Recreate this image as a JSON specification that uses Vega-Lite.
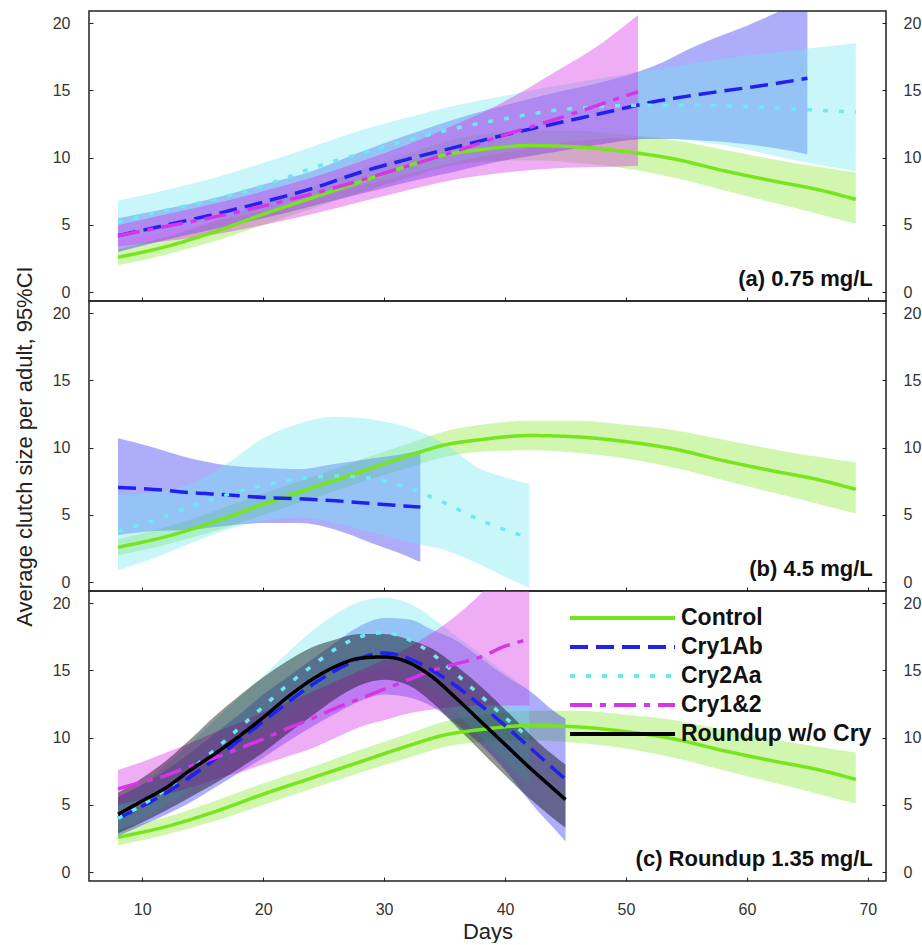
{
  "$schema": "https://vega.github.io/schema/vega-lite/v6.json",
  "background": "white",
  "padding": {"left": 12, "top": 10, "right": 0, "bottom": 0},
  "spacing": 0,
  "bounds": "flush",
  "config": {
    "view": {"stroke": "#222", "strokeWidth": 1.5},
    "font": "Liberation Sans",
    "axis": {
      "labelFont": "Liberation Sans", "labelFontSize": 16, "labelColor": "#333",
      "tickColor": "#222", "tickSize": -4, "tickWidth": 1, "domain": false, "grid": false,
      "titleFont": "Liberation Sans", "titleFontSize": 22, "titleFontWeight": "normal", "titleColor": "#222"
    }
  },
  "datasets": {
    "curves": [
      {"p":"all","s":"Control","d":8,"m":2.6,"lo":2.0,"hi":3.2},
      {"p":"all","s":"Control","d":12,"m":3.4,"lo":2.8,"hi":4.1},
      {"p":"all","s":"Control","d":16,"m":4.5,"lo":3.8,"hi":5.3},
      {"p":"all","s":"Control","d":20,"m":5.8,"lo":5.0,"hi":6.6},
      {"p":"all","s":"Control","d":24,"m":7.0,"lo":6.2,"hi":7.8},
      {"p":"all","s":"Control","d":28,"m":8.2,"lo":7.4,"hi":9.1},
      {"p":"all","s":"Control","d":32,"m":9.4,"lo":8.5,"hi":10.3},
      {"p":"all","s":"Control","d":35,"m":10.2,"lo":9.3,"hi":11.2},
      {"p":"all","s":"Control","d":38,"m":10.6,"lo":9.7,"hi":11.7},
      {"p":"all","s":"Control","d":42,"m":10.9,"lo":9.8,"hi":12.0},
      {"p":"all","s":"Control","d":46,"m":10.8,"lo":9.6,"hi":12.0},
      {"p":"all","s":"Control","d":50,"m":10.45,"lo":9.2,"hi":11.7},
      {"p":"all","s":"Control","d":54,"m":9.9,"lo":8.5,"hi":11.3},
      {"p":"all","s":"Control","d":58,"m":9.05,"lo":7.6,"hi":10.6},
      {"p":"all","s":"Control","d":62,"m":8.3,"lo":6.7,"hi":9.9},
      {"p":"all","s":"Control","d":66,"m":7.6,"lo":5.8,"hi":9.3},
      {"p":"all","s":"Control","d":69,"m":6.9,"lo":5.1,"hi":8.9},

      {"p":"a","s":"Cry1Ab","d":8,"m":4.2,"lo":3.0,"hi":5.5},
      {"p":"a","s":"Cry1Ab","d":12,"m":5.0,"lo":3.9,"hi":6.2},
      {"p":"a","s":"Cry1Ab","d":16,"m":5.8,"lo":4.7,"hi":7.0},
      {"p":"a","s":"Cry1Ab","d":20,"m":6.7,"lo":5.5,"hi":8.0},
      {"p":"a","s":"Cry1Ab","d":24,"m":7.7,"lo":6.4,"hi":9.0},
      {"p":"a","s":"Cry1Ab","d":28,"m":8.9,"lo":7.3,"hi":10.4},
      {"p":"a","s":"Cry1Ab","d":32,"m":9.9,"lo":8.2,"hi":11.7},
      {"p":"a","s":"Cry1Ab","d":36,"m":10.8,"lo":9.0,"hi":12.9},
      {"p":"a","s":"Cry1Ab","d":40,"m":11.7,"lo":9.8,"hi":13.9},
      {"p":"a","s":"Cry1Ab","d":44,"m":12.5,"lo":10.4,"hi":14.8},
      {"p":"a","s":"Cry1Ab","d":48,"m":13.3,"lo":11.0,"hi":15.6},
      {"p":"a","s":"Cry1Ab","d":52,"m":14.1,"lo":11.4,"hi":16.7},
      {"p":"a","s":"Cry1Ab","d":56,"m":14.7,"lo":11.3,"hi":18.4},
      {"p":"a","s":"Cry1Ab","d":60,"m":15.2,"lo":11.0,"hi":19.8},
      {"p":"a","s":"Cry1Ab","d":63,"m":15.6,"lo":10.6,"hi":21.0},
      {"p":"a","s":"Cry1Ab","d":65,"m":15.9,"lo":10.25,"hi":21.8},

      {"p":"a","s":"Cry2Aa","d":8,"m":5.2,"lo":3.8,"hi":6.8},
      {"p":"a","s":"Cry2Aa","d":12,"m":6.1,"lo":4.5,"hi":7.6},
      {"p":"a","s":"Cry2Aa","d":16,"m":6.9,"lo":5.3,"hi":8.5},
      {"p":"a","s":"Cry2Aa","d":20,"m":7.9,"lo":6.0,"hi":9.6},
      {"p":"a","s":"Cry2Aa","d":24,"m":9.2,"lo":6.9,"hi":10.8},
      {"p":"a","s":"Cry2Aa","d":28,"m":10.3,"lo":7.9,"hi":12.0},
      {"p":"a","s":"Cry2Aa","d":32,"m":11.3,"lo":8.8,"hi":13.0},
      {"p":"a","s":"Cry2Aa","d":36,"m":12.2,"lo":9.7,"hi":13.9},
      {"p":"a","s":"Cry2Aa","d":40,"m":12.9,"lo":10.4,"hi":14.6},
      {"p":"a","s":"Cry2Aa","d":44,"m":13.5,"lo":11.0,"hi":15.3},
      {"p":"a","s":"Cry2Aa","d":48,"m":13.8,"lo":11.4,"hi":15.9},
      {"p":"a","s":"Cry2Aa","d":52,"m":13.9,"lo":11.5,"hi":16.5},
      {"p":"a","s":"Cry2Aa","d":56,"m":13.9,"lo":11.2,"hi":17.1},
      {"p":"a","s":"Cry2Aa","d":60,"m":13.8,"lo":10.6,"hi":17.6},
      {"p":"a","s":"Cry2Aa","d":64,"m":13.6,"lo":9.8,"hi":18.0},
      {"p":"a","s":"Cry2Aa","d":69,"m":13.4,"lo":9.0,"hi":18.5},

      {"p":"a","s":"Cry1&2","d":8,"m":4.2,"lo":3.4,"hi":5.0},
      {"p":"a","s":"Cry1&2","d":12,"m":4.9,"lo":3.8,"hi":5.8},
      {"p":"a","s":"Cry1&2","d":16,"m":5.6,"lo":4.3,"hi":6.6},
      {"p":"a","s":"Cry1&2","d":20,"m":6.4,"lo":5.0,"hi":7.5},
      {"p":"a","s":"Cry1&2","d":24,"m":7.3,"lo":5.8,"hi":8.5},
      {"p":"a","s":"Cry1&2","d":28,"m":8.3,"lo":6.7,"hi":9.7},
      {"p":"a","s":"Cry1&2","d":32,"m":9.4,"lo":7.6,"hi":11.0},
      {"p":"a","s":"Cry1&2","d":36,"m":10.5,"lo":8.4,"hi":12.5},
      {"p":"a","s":"Cry1&2","d":40,"m":11.7,"lo":8.9,"hi":14.2},
      {"p":"a","s":"Cry1&2","d":44,"m":12.8,"lo":9.2,"hi":16.3},
      {"p":"a","s":"Cry1&2","d":48,"m":14.0,"lo":9.3,"hi":18.5},
      {"p":"a","s":"Cry1&2","d":51,"m":14.9,"lo":9.4,"hi":20.6},

      {"p":"b","s":"Cry1Ab","d":8,"m":7.05,"lo":3.5,"hi":10.7},
      {"p":"b","s":"Cry1Ab","d":11,"m":6.9,"lo":3.8,"hi":10.0},
      {"p":"b","s":"Cry1Ab","d":14,"m":6.65,"lo":3.9,"hi":9.2},
      {"p":"b","s":"Cry1Ab","d":17,"m":6.5,"lo":4.2,"hi":8.7},
      {"p":"b","s":"Cry1Ab","d":20,"m":6.3,"lo":4.4,"hi":8.5},
      {"p":"b","s":"Cry1Ab","d":23,"m":6.2,"lo":4.4,"hi":8.4},
      {"p":"b","s":"Cry1Ab","d":26,"m":6.05,"lo":3.9,"hi":8.8},
      {"p":"b","s":"Cry1Ab","d":29,"m":5.85,"lo":2.9,"hi":9.2},
      {"p":"b","s":"Cry1Ab","d":32,"m":5.65,"lo":1.9,"hi":9.6},
      {"p":"b","s":"Cry1Ab","d":33,"m":5.6,"lo":1.5,"hi":9.8},

      {"p":"b","s":"Cry2Aa","d":8,"m":3.8,"lo":0.9,"hi":6.5},
      {"p":"b","s":"Cry2Aa","d":11,"m":4.6,"lo":1.8,"hi":6.7},
      {"p":"b","s":"Cry2Aa","d":14,"m":5.6,"lo":2.9,"hi":7.3},
      {"p":"b","s":"Cry2Aa","d":17,"m":6.5,"lo":3.9,"hi":8.8},
      {"p":"b","s":"Cry2Aa","d":20,"m":7.2,"lo":4.6,"hi":10.7},
      {"p":"b","s":"Cry2Aa","d":23,"m":7.7,"lo":4.8,"hi":11.8},
      {"p":"b","s":"Cry2Aa","d":26,"m":7.9,"lo":4.4,"hi":12.3},
      {"p":"b","s":"Cry2Aa","d":29,"m":7.7,"lo":3.7,"hi":12.1},
      {"p":"b","s":"Cry2Aa","d":32,"m":7.0,"lo":3.0,"hi":11.5},
      {"p":"b","s":"Cry2Aa","d":35,"m":5.9,"lo":2.4,"hi":10.3},
      {"p":"b","s":"Cry2Aa","d":38,"m":4.6,"lo":1.3,"hi":8.4},
      {"p":"b","s":"Cry2Aa","d":40,"m":3.9,"lo":0.4,"hi":7.8},
      {"p":"b","s":"Cry2Aa","d":42,"m":3.3,"lo":-0.4,"hi":7.3},

      {"p":"c","s":"Cry1Ab","d":8,"m":4.0,"lo":2.7,"hi":5.6},
      {"p":"c","s":"Cry1Ab","d":10,"m":4.9,"lo":3.5,"hi":6.5},
      {"p":"c","s":"Cry1Ab","d":12,"m":5.9,"lo":4.3,"hi":7.6},
      {"p":"c","s":"Cry1Ab","d":14,"m":7.1,"lo":5.2,"hi":8.9},
      {"p":"c","s":"Cry1Ab","d":16,"m":8.4,"lo":6.3,"hi":10.3},
      {"p":"c","s":"Cry1Ab","d":18,"m":9.8,"lo":7.4,"hi":11.7},
      {"p":"c","s":"Cry1Ab","d":20,"m":11.2,"lo":8.5,"hi":13.2},
      {"p":"c","s":"Cry1Ab","d":22,"m":12.6,"lo":9.7,"hi":14.5},
      {"p":"c","s":"Cry1Ab","d":24,"m":13.9,"lo":10.8,"hi":15.8},
      {"p":"c","s":"Cry1Ab","d":26,"m":15.0,"lo":11.8,"hi":17.1},
      {"p":"c","s":"Cry1Ab","d":28,"m":15.9,"lo":12.7,"hi":18.3},
      {"p":"c","s":"Cry1Ab","d":30,"m":16.3,"lo":13.2,"hi":18.9},
      {"p":"c","s":"Cry1Ab","d":32,"m":15.9,"lo":13.0,"hi":18.8},
      {"p":"c","s":"Cry1Ab","d":34,"m":15.0,"lo":12.3,"hi":18.0},
      {"p":"c","s":"Cry1Ab","d":36,"m":13.8,"lo":11.0,"hi":17.2},
      {"p":"c","s":"Cry1Ab","d":38,"m":12.4,"lo":9.5,"hi":15.9},
      {"p":"c","s":"Cry1Ab","d":40,"m":10.9,"lo":7.6,"hi":14.6},
      {"p":"c","s":"Cry1Ab","d":42,"m":9.3,"lo":5.3,"hi":13.5},
      {"p":"c","s":"Cry1Ab","d":44,"m":7.7,"lo":3.3,"hi":12.0},
      {"p":"c","s":"Cry1Ab","d":45,"m":6.9,"lo":2.3,"hi":11.4},

      {"p":"c","s":"Cry2Aa","d":8,"m":4.0,"lo":3.1,"hi":5.2},
      {"p":"c","s":"Cry2Aa","d":10,"m":5.0,"lo":4.0,"hi":6.5},
      {"p":"c","s":"Cry2Aa","d":12,"m":6.2,"lo":5.0,"hi":8.0},
      {"p":"c","s":"Cry2Aa","d":14,"m":7.6,"lo":6.2,"hi":9.6},
      {"p":"c","s":"Cry2Aa","d":16,"m":9.1,"lo":7.6,"hi":11.3},
      {"p":"c","s":"Cry2Aa","d":18,"m":10.7,"lo":9.0,"hi":13.0},
      {"p":"c","s":"Cry2Aa","d":20,"m":12.3,"lo":10.5,"hi":14.6},
      {"p":"c","s":"Cry2Aa","d":22,"m":13.9,"lo":11.9,"hi":16.3},
      {"p":"c","s":"Cry2Aa","d":24,"m":15.3,"lo":13.2,"hi":17.9},
      {"p":"c","s":"Cry2Aa","d":26,"m":16.6,"lo":14.2,"hi":19.2},
      {"p":"c","s":"Cry2Aa","d":28,"m":17.5,"lo":14.9,"hi":20.1},
      {"p":"c","s":"Cry2Aa","d":30,"m":17.8,"lo":15.2,"hi":20.4},
      {"p":"c","s":"Cry2Aa","d":32,"m":17.3,"lo":14.8,"hi":20.0},
      {"p":"c","s":"Cry2Aa","d":34,"m":16.2,"lo":13.5,"hi":18.9},
      {"p":"c","s":"Cry2Aa","d":36,"m":14.7,"lo":11.8,"hi":17.5},
      {"p":"c","s":"Cry2Aa","d":38,"m":13.1,"lo":10.0,"hi":16.2},
      {"p":"c","s":"Cry2Aa","d":40,"m":11.5,"lo":8.2,"hi":14.8},
      {"p":"c","s":"Cry2Aa","d":42,"m":10.0,"lo":6.5,"hi":13.5},

      {"p":"c","s":"Cry1&2","d":8,"m":6.2,"lo":5.0,"hi":7.6},
      {"p":"c","s":"Cry1&2","d":10,"m":6.7,"lo":5.4,"hi":8.2},
      {"p":"c","s":"Cry1&2","d":12,"m":7.2,"lo":5.8,"hi":8.9},
      {"p":"c","s":"Cry1&2","d":14,"m":7.9,"lo":6.3,"hi":9.6},
      {"p":"c","s":"Cry1&2","d":16,"m":8.5,"lo":6.9,"hi":10.4},
      {"p":"c","s":"Cry1&2","d":18,"m":9.2,"lo":7.4,"hi":11.1},
      {"p":"c","s":"Cry1&2","d":20,"m":9.9,"lo":8.0,"hi":11.9},
      {"p":"c","s":"Cry1&2","d":22,"m":10.7,"lo":8.6,"hi":12.6},
      {"p":"c","s":"Cry1&2","d":24,"m":11.4,"lo":9.2,"hi":13.4},
      {"p":"c","s":"Cry1&2","d":26,"m":12.2,"lo":10.0,"hi":14.2},
      {"p":"c","s":"Cry1&2","d":28,"m":12.9,"lo":10.8,"hi":15.0},
      {"p":"c","s":"Cry1&2","d":30,"m":13.6,"lo":11.3,"hi":15.8},
      {"p":"c","s":"Cry1&2","d":32,"m":14.3,"lo":11.8,"hi":16.7},
      {"p":"c","s":"Cry1&2","d":34,"m":15.0,"lo":12.1,"hi":17.8},
      {"p":"c","s":"Cry1&2","d":36,"m":15.5,"lo":12.3,"hi":19.1},
      {"p":"c","s":"Cry1&2","d":38,"m":16.0,"lo":12.4,"hi":20.7},
      {"p":"c","s":"Cry1&2","d":40,"m":16.8,"lo":12.4,"hi":22.5},
      {"p":"c","s":"Cry1&2","d":42,"m":17.3,"lo":12.4,"hi":24.0},

      {"p":"c","s":"Roundup w/o Cry","d":8,"m":4.3,"lo":2.9,"hi":5.9},
      {"p":"c","s":"Roundup w/o Cry","d":10,"m":5.3,"lo":3.7,"hi":7.0},
      {"p":"c","s":"Roundup w/o Cry","d":12,"m":6.3,"lo":4.6,"hi":8.3},
      {"p":"c","s":"Roundup w/o Cry","d":14,"m":7.6,"lo":5.6,"hi":9.9},
      {"p":"c","s":"Roundup w/o Cry","d":16,"m":8.8,"lo":6.6,"hi":11.6},
      {"p":"c","s":"Roundup w/o Cry","d":18,"m":10.1,"lo":7.7,"hi":13.1},
      {"p":"c","s":"Roundup w/o Cry","d":20,"m":11.5,"lo":8.9,"hi":14.5},
      {"p":"c","s":"Roundup w/o Cry","d":22,"m":13.0,"lo":10.3,"hi":15.7},
      {"p":"c","s":"Roundup w/o Cry","d":24,"m":14.3,"lo":11.6,"hi":16.7},
      {"p":"c","s":"Roundup w/o Cry","d":26,"m":15.3,"lo":12.9,"hi":17.3},
      {"p":"c","s":"Roundup w/o Cry","d":28,"m":15.9,"lo":13.9,"hi":17.7},
      {"p":"c","s":"Roundup w/o Cry","d":30,"m":16.0,"lo":14.3,"hi":17.7},
      {"p":"c","s":"Roundup w/o Cry","d":32,"m":15.6,"lo":13.9,"hi":17.3},
      {"p":"c","s":"Roundup w/o Cry","d":34,"m":14.5,"lo":12.6,"hi":16.6},
      {"p":"c","s":"Roundup w/o Cry","d":36,"m":12.9,"lo":10.8,"hi":15.3},
      {"p":"c","s":"Roundup w/o Cry","d":38,"m":11.2,"lo":9.0,"hi":13.8},
      {"p":"c","s":"Roundup w/o Cry","d":40,"m":9.5,"lo":7.2,"hi":12.1},
      {"p":"c","s":"Roundup w/o Cry","d":42,"m":7.8,"lo":5.5,"hi":10.3},
      {"p":"c","s":"Roundup w/o Cry","d":44,"m":6.2,"lo":4.0,"hi":8.7},
      {"p":"c","s":"Roundup w/o Cry","d":45,"m":5.4,"lo":3.3,"hi":8.0}
    ]
  },
  "vconcat": [
    {
      "width": 797, "height": 290,
      "layer": [
        {
          "data": {"name": "curves"},
          "transform": [{"filter": "datum.p == 'a' || datum.p == 'all'"}],
          "mark": {"type": "area", "interpolate": "monotone", "clip": true},
          "encoding": {
            "x": {"field": "d", "type": "quantitative", "scale": {"domain": [5.6, 71.5], "nice": false, "zero": false},
                  "axis": {"values": [10,20,30,40,50,60,70], "labels": false, "title": null, "tickSize": -4, "minExtent": 0, "maxExtent": 0}},
            "y": {"field": "lo", "type": "quantitative", "scale": {"domain": [-0.65, 20.9], "nice": false, "zero": false},
                  "axis": {"orient": "left", "values": [0,5,10,15,20], "title": null, "labelPadding": 23}},
            "y2": {"field": "hi"},
            "fill": {"field": "s", "type": "nominal",
                     "scale": {"domain": ["Control","Cry1Ab","Cry2Aa","Cry1&2","Roundup w/o Cry"], "range": ["#78e41c","#2020f0","#70e8f0","#d535e6","#000000"]},
                     "legend": null},
            "fillOpacity": {"field": "s", "type": "nominal",
                     "scale": {"domain": ["Control","Cry1Ab","Cry2Aa","Cry1&2","Roundup w/o Cry"], "range": [0.35, 0.42, 0.4, 0.32, 0.25]},
                     "legend": null}
          }
        },
        {
          "data": {"name": "curves"},
          "transform": [{"filter": "datum.p == 'a' || datum.p == 'all'"}],
          "mark": {"type": "line", "interpolate": "monotone", "clip": true, "strokeWidth": 3.5},
          "encoding": {
            "x": {"field": "d", "type": "quantitative"},
            "y": {"field": "m", "type": "quantitative", "axis": {"orient": "right", "values": [0,5,10,15,20], "title": null, "labelPadding": 21}},
            "stroke": {"field": "s", "type": "nominal",
                       "scale": {"domain": ["Control","Cry1Ab","Cry2Aa","Cry1&2","Roundup w/o Cry"], "range": ["#78e41c","#2020f0","#70e8f0","#d535e6","#000000"]},
                       "legend": null},
            "strokeDash": {"field": "s", "type": "nominal",
                           "scale": {"domain": ["Control","Cry1Ab","Cry2Aa","Cry1&2","Roundup w/o Cry"], "range": [[1,0],[18,8],[5,11],[22,8,6,8],[1,0]]},
                           "legend": null}
          }
        },
        {
          "data": {"values": [{"t": "(a) 0.75 mg/L"}]},
          "mark": {"type": "text", "align": "right", "baseline": "alphabetic", "fontSize": 22, "fontWeight": "bold", "font": "Liberation Sans", "color": "#111"},
          "encoding": {
            "x": {"datum": 70.4, "type": "quantitative"},
            "y": {"datum": 0.45, "type": "quantitative", "axis": null},
            "text": {"field": "t"}
          }
        }
      ],
      "resolve": {"axis": {"y": "independent"}}
    },
    {
      "width": 797, "height": 290,
      "layer": [
        {
          "data": {"name": "curves"},
          "transform": [{"filter": "datum.p == 'b' || datum.p == 'all'"}],
          "mark": {"type": "area", "interpolate": "monotone", "clip": true},
          "encoding": {
            "x": {"field": "d", "type": "quantitative", "scale": {"domain": [5.6, 71.5], "nice": false, "zero": false},
                  "axis": {"values": [10,20,30,40,50,60,70], "labels": false, "title": null, "tickSize": -4, "minExtent": 0, "maxExtent": 0}},
            "y": {"field": "lo", "type": "quantitative", "scale": {"domain": [-0.65, 20.9], "nice": false, "zero": false},
                  "axis": {"orient": "left", "values": [0,5,10,15,20], "title": "Average clutch size per adult, 95%CI", "titlePadding": 16, "labelPadding": 23}},
            "y2": {"field": "hi"},
            "fill": {"field": "s", "type": "nominal",
                     "scale": {"domain": ["Control","Cry1Ab","Cry2Aa","Cry1&2","Roundup w/o Cry"], "range": ["#78e41c","#2020f0","#70e8f0","#d535e6","#000000"]},
                     "legend": null},
            "fillOpacity": {"field": "s", "type": "nominal",
                     "scale": {"domain": ["Control","Cry1Ab","Cry2Aa","Cry1&2","Roundup w/o Cry"], "range": [0.35, 0.42, 0.4, 0.32, 0.25]},
                     "legend": null}
          }
        },
        {
          "data": {"name": "curves"},
          "transform": [{"filter": "datum.p == 'b' || datum.p == 'all'"}],
          "mark": {"type": "line", "interpolate": "monotone", "clip": true, "strokeWidth": 3.5},
          "encoding": {
            "x": {"field": "d", "type": "quantitative"},
            "y": {"field": "m", "type": "quantitative", "axis": {"orient": "right", "values": [0,5,10,15,20], "title": null, "labelPadding": 21}},
            "stroke": {"field": "s", "type": "nominal",
                       "scale": {"domain": ["Control","Cry1Ab","Cry2Aa","Cry1&2","Roundup w/o Cry"], "range": ["#78e41c","#2020f0","#70e8f0","#d535e6","#000000"]},
                       "legend": null},
            "strokeDash": {"field": "s", "type": "nominal",
                           "scale": {"domain": ["Control","Cry1Ab","Cry2Aa","Cry1&2","Roundup w/o Cry"], "range": [[1,0],[18,8],[5,11],[22,8,6,8],[1,0]]},
                           "legend": null}
          }
        },
        {
          "data": {"values": [{"t": "(b) 4.5 mg/L"}]},
          "mark": {"type": "text", "align": "right", "baseline": "alphabetic", "fontSize": 22, "fontWeight": "bold", "font": "Liberation Sans", "color": "#111"},
          "encoding": {
            "x": {"datum": 70.4, "type": "quantitative"},
            "y": {"datum": 0.45, "type": "quantitative", "axis": null},
            "text": {"field": "t"}
          }
        }
      ],
      "resolve": {"axis": {"y": "independent"}}
    },
    {
      "width": 797, "height": 290,
      "layer": [
        {
          "data": {"name": "curves"},
          "transform": [{"filter": "datum.p == 'c' || datum.p == 'all'"}],
          "mark": {"type": "area", "interpolate": "monotone", "clip": true},
          "encoding": {
            "x": {"field": "d", "type": "quantitative", "scale": {"domain": [5.6, 71.5], "nice": false, "zero": false},
                  "axis": {"values": [10,20,30,40,50,60,70], "title": "Days", "tickSize": -4, "labelPadding": 24, "titlePadding": 4}},
            "y": {"field": "lo", "type": "quantitative", "scale": {"domain": [-0.65, 20.9], "nice": false, "zero": false},
                  "axis": {"orient": "left", "values": [0,5,10,15,20], "title": null, "labelPadding": 23}},
            "y2": {"field": "hi"},
            "fill": {"field": "s", "type": "nominal",
                     "scale": {"domain": ["Control","Cry1Ab","Cry2Aa","Cry1&2","Roundup w/o Cry"], "range": ["#78e41c","#2020f0","#70e8f0","#d535e6","#000000"]},
                     "legend": null},
            "fillOpacity": {"field": "s", "type": "nominal",
                     "scale": {"domain": ["Control","Cry1Ab","Cry2Aa","Cry1&2","Roundup w/o Cry"], "range": [0.35, 0.42, 0.4, 0.32, 0.25]},
                     "legend": null}
          }
        },
        {
          "data": {"name": "curves"},
          "transform": [{"filter": "datum.p == 'c' || datum.p == 'all'"}],
          "mark": {"type": "line", "interpolate": "monotone", "clip": true, "strokeWidth": 3.5},
          "encoding": {
            "x": {"field": "d", "type": "quantitative"},
            "y": {"field": "m", "type": "quantitative", "axis": {"orient": "right", "values": [0,5,10,15,20], "title": null, "labelPadding": 21}},
            "stroke": {"field": "s", "type": "nominal",
                       "scale": {"domain": ["Control","Cry1Ab","Cry2Aa","Cry1&2","Roundup w/o Cry"], "range": ["#78e41c","#2020f0","#70e8f0","#d535e6","#000000"]},
                       "legend": {"orient": "none", "legendX": 479, "legendY": 18, "title": null, "symbolType": "stroke", "symbolSize": 11025, "symbolStrokeWidth": 4, "labelFontSize": 23, "labelFontWeight": "bold", "labelFont": "Liberation Sans", "labelColor": "#111", "labelOffset": 4, "labelLimit": 400, "clipHeight": 18, "rowPadding": 6, "padding": 0}},
            "strokeDash": {"field": "s", "type": "nominal",
                           "scale": {"domain": ["Control","Cry1Ab","Cry2Aa","Cry1&2","Roundup w/o Cry"], "range": [[1,0],[18,8],[5,11],[22,8,6,8],[1,0]]},
                           "legend": {"orient": "none", "legendX": 479, "legendY": 18, "title": null, "symbolType": "stroke", "symbolSize": 11025, "symbolStrokeWidth": 4, "labelFontSize": 23, "labelFontWeight": "bold", "labelFont": "Liberation Sans", "labelColor": "#111", "labelOffset": 4, "labelLimit": 400, "clipHeight": 18, "rowPadding": 6, "padding": 0}}
          }
        },
        {
          "data": {"values": [{"t": "(c) Roundup 1.35 mg/L"}]},
          "mark": {"type": "text", "align": "right", "baseline": "alphabetic", "fontSize": 22, "fontWeight": "bold", "font": "Liberation Sans", "color": "#111"},
          "encoding": {
            "x": {"datum": 70.4, "type": "quantitative"},
            "y": {"datum": 0.45, "type": "quantitative", "axis": null},
            "text": {"field": "t"}
          }
        }
      ],
      "resolve": {"axis": {"y": "independent"}}
    }
  ],
  "resolve": {"legend": {"stroke": "independent", "strokeDash": "independent"}}
}
